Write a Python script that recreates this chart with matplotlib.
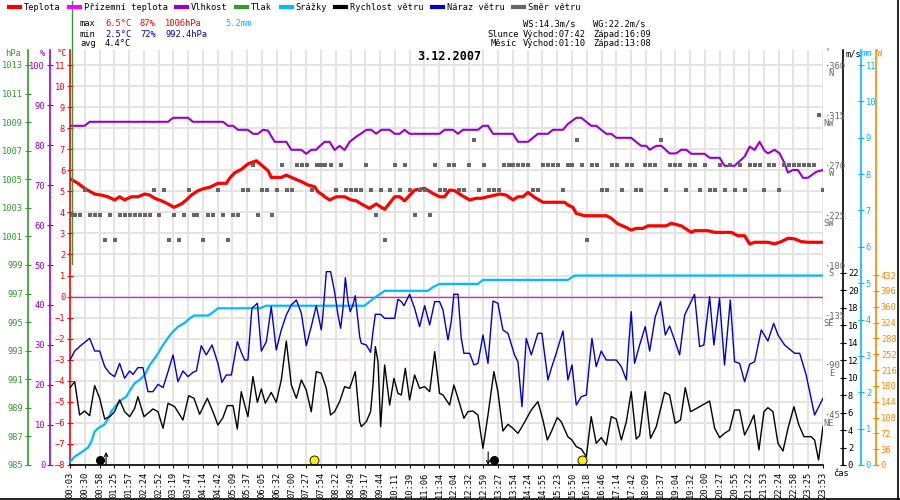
import numpy as np
import matplotlib
matplotlib.use('Agg')
import matplotlib.pyplot as plt
from matplotlib.lines import Line2D

plt.rcParams['font.family'] = ['DejaVu Sans Mono']
plt.rcParams['font.size'] = 6.3

# ---- data -------------------------------------------------------------
time_labels = ['00:03', '00:30', '00:58', '01:25', '01:57', '02:24', '02:52', '03:19', '03:47',
               '04:14', '04:42', '05:09', '05:37', '06:05', '06:32', '07:00', '07:27', '07:54',
               '08:22', '08:49', '09:17', '09:44', '10:11', '10:39', '11:06', '11:34', '12:04',
               '12:32', '12:59', '13:27', '13:54', '14:24', '14:55', '15:23', '15:50', '16:18',
               '16:46', '17:14', '17:42', '18:09', '18:37', '19:04', '19:32', '20:00', '20:27',
               '20:55', '21:22', '21:53', '22:24', '22:58', '23:25', '23:53']

# positions are in units of the (sample based) time axis: 0 = first label, 51 = last
temp_pos = [0.05, 0.54, 0.99, 1.67, 2.12, 2.57, 3.02, 3.36, 3.70, 4.15, 4.60, 5.06, 5.40, 5.73,
            6.19, 6.64, 7.04, 7.54, 7.88, 8.22, 8.67, 9.12, 9.46, 10.02, 10.59, 10.81, 11.15,
            11.60, 12.05, 12.62, 12.96, 13.41, 13.63, 14.31, 14.65, 14.99, 15.67, 16.12, 16.57,
            16.79, 17.13, 17.25, 17.58, 18.04, 18.60, 19.05, 19.39, 19.73, 20.29, 20.74, 21.31,
            21.99, 22.33, 22.66, 23.34, 24.02, 24.58, 25.03, 25.37, 25.71, 26.05, 26.50, 27.07,
            27.52, 27.86, 28.53, 29.10, 29.55, 30.00, 30.34, 30.68, 31.02, 31.47, 32.03, 32.60,
            33.50, 33.72, 34.06, 34.29, 34.85, 36.32, 36.66, 37.11, 37.56, 38.01, 38.35, 38.80,
            39.14, 40.38, 40.72, 41.40, 42.08, 42.30, 43.21, 43.66, 44.79, 45.24, 45.69, 46.03,
            46.37, 47.27, 47.72, 48.17, 48.63, 49.08, 49.53, 49.98, 51.0]
temp = [5.58, 5.38, 5.14, 4.87, 4.82, 4.74, 4.59, 4.74, 4.59, 4.74, 4.74, 4.87, 4.82, 4.67,
        4.55, 4.40, 4.24, 4.40, 4.59, 4.82, 5.03, 5.14, 5.19, 5.38, 5.38, 5.62, 5.88,
        6.04, 6.30, 6.45, 6.25, 5.98, 5.66, 5.66, 5.77, 5.66, 5.46, 5.30, 5.22,
        4.98, 4.82, 4.74, 4.59, 4.74, 4.74, 4.59, 4.55, 4.40, 4.19, 4.40, 4.14,
        4.74, 4.74, 4.55, 5.06, 5.14, 4.90, 4.74, 4.74, 5.06, 5.03, 4.82, 4.59,
        4.67, 4.67, 4.78, 4.87, 4.82, 4.59, 4.74, 4.74, 4.95, 4.71, 4.48, 4.48,
        4.48, 4.35, 4.24, 3.95, 3.84, 3.84, 3.72, 3.45, 3.32, 3.16, 3.24, 3.24,
        3.36, 3.36, 3.48, 3.36, 3.05, 3.13, 3.13, 3.05, 3.05, 2.89, 2.89, 2.50,
        2.58, 2.58, 2.50, 2.61, 2.77, 2.74, 2.61, 2.58, 2.58]

apparent_pos = [0, 51]
apparent_temp = [0.0, 0.0]

hum_pos = [0.05, 0.99, 1.33, 6.64, 6.98, 7.99, 8.33, 10.36, 10.70, 11.04, 11.38, 12.05, 12.39,
           12.73, 13.07, 13.41, 13.86, 14.65, 14.99, 15.67, 16.00, 16.34, 16.68, 16.79, 17.25,
           17.58, 17.92, 18.26, 18.60, 18.94, 19.39, 19.73, 20.07, 20.41, 20.74, 21.08, 21.65,
           21.99, 22.32, 22.66, 23.00, 25.03, 25.37, 25.94, 26.28, 26.61, 27.63, 27.97, 28.31,
           28.65, 30.00, 30.34, 31.02, 31.69, 32.37, 32.71, 33.39, 33.72, 34.29, 34.63, 35.30,
           35.64, 36.32, 36.66, 37.00, 38.01, 38.47, 38.69, 39.03, 39.26, 39.71, 40.05, 40.61,
           41.06, 41.40, 41.74, 42.08, 42.98, 43.32, 44.00, 44.33, 45.01, 45.69, 46.03, 46.37,
           46.70, 47.04, 47.27, 47.72, 48.06, 48.40, 48.62, 48.96, 49.30, 49.64, 49.98, 50.54,
           51.0]
humidity = [84.8, 84.8, 85.8, 85.8, 86.8, 86.8, 85.8, 85.8, 84.8, 84.8, 83.8, 83.8, 82.8,
            82.8, 83.8, 83.6, 80.8, 80.8, 78.8, 78.8, 77.8, 78.8, 78.8, 79.3, 80.8,
            80.8, 78.75, 79.8, 78.75, 80.8, 82.1, 82.9, 83.8, 83.8, 82.8, 83.8, 83.8,
            82.8, 82.8, 83.8, 82.8, 82.8, 83.8, 83.8, 82.8, 83.8, 83.8, 84.8, 84.8,
            82.8, 82.8, 80.8, 80.8, 82.8, 82.8, 83.8, 83.8, 85.25, 86.8, 86.8, 84.8,
            84.8, 82.8, 82.8, 81.8, 81.8, 80.4, 79.8, 79.8, 78.8, 79.8, 79.8, 77.9,
            77.9, 78.8, 78.8, 77.8, 77.8, 76.8, 76.8, 74.8, 74.8, 77.1, 79.6, 78.75,
            80.8, 78.6, 77.9, 78.8, 77.9, 75.4, 73.1, 73.75, 73.75, 71.8, 71.8, 73.3,
            73.75]

pressure_pos = [0.13, 0.13]
pressure = [1017.5, 999.1]

rain_pos = [0, 0.32, 0.77, 1.22, 1.44, 1.67, 1.90, 2.35, 2.57, 2.80, 3.14, 3.48, 3.81, 4.04,
            4.38, 4.72, 5.06, 5.40, 5.73, 5.96, 6.30, 6.64, 6.98, 7.31, 7.77, 8.10, 8.40, 9.35,
            9.68, 10.02, 12.84, 13.30, 19.95, 20.52, 21.31, 24.24, 24.58, 25.03, 27.63, 27.97,
            33.72, 34.18, 51.0]
rain = [0.09, 0.23, 0.35, 0.48, 0.64, 0.92, 1.01, 1.12, 1.27, 1.47, 1.65, 1.79, 1.88, 2.04,
        2.25, 2.34, 2.48, 2.75, 2.93, 3.07, 3.30, 3.50, 3.67, 3.80, 3.91, 4.03, 4.11, 4.11,
        4.20, 4.31, 4.31, 4.38, 4.38, 4.57, 4.79, 4.79, 4.89, 4.98, 4.98, 5.09,
        5.09, 5.21, 5.21]

speed_pos = [0, 0.32, 0.65, 0.99, 1.33, 1.67, 2.01, 2.35, 2.69, 3.02, 3.36, 3.70, 4.04, 4.38,
             4.60, 5.01, 5.62, 5.96, 6.30, 6.64, 7.09, 7.65, 8.04, 8.40, 8.78, 9.30, 9.68, 10.02,
             10.36, 10.65, 11.04, 11.33, 11.60, 11.83, 12.05, 12.39, 12.69, 12.96, 13.23, 13.63,
             13.97, 14.31, 14.65, 14.99, 15.33, 15.67, 16.00, 16.34, 16.68,
             17.02, 17.36, 17.65, 17.92, 18.26, 18.60, 18.94, 19.32, 19.62, 19.73,
             20.07, 20.36, 20.52, 20.68, 20.86, 21.04, 21.31, 21.65, 21.94, 22.21,
             22.44, 22.71, 23.00, 23.34, 23.68, 24.02, 24.36, 24.70, 25.03, 25.26,
             25.71, 26.00, 26.28, 26.68, 26.95, 27.29, 27.63, 27.97, 28.31, 28.71,
             28.98, 29.32, 29.66, 30.00, 30.34, 30.68, 31.24, 31.69, 32.03, 32.33,
             32.60, 33.00, 33.27,
             33.72, 34.00, 34.29, 34.63, 34.97, 35.30, 35.64, 35.98, 36.32, 36.66,
             37.00, 37.34, 37.68, 38.01, 38.35, 38.58, 38.96, 39.32, 39.71, 40.27,
             40.61, 40.99, 41.35, 41.67, 42.03, 42.64, 43.32, 43.66, 44.00, 44.33,
             44.67, 45.01, 45.35, 45.69, 46.03, 46.32, 46.66, 47.00, 47.27, 47.61,
             47.95, 48.29, 48.63, 49.03, 49.35, 49.71, 50.20, 50.43, 50.70, 51.0]
speed = [8.85, 9.53, 5.72, 6.18, 5.64, 9.08, 7.63, 5.26, 5.53, 6.10, 7.44, 6.10, 5.53, 6.48,
         7.82, 5.53, 6.41, 6.10, 4.20, 7.06, 6.67, 5.15, 7.93, 7.63, 5.80, 7.63, 6.10, 4.58,
         5.42, 6.79, 6.79, 4.12, 8.39, 6.86, 5.53, 10.11, 7.17, 8.70, 7.06, 8.31,
         7.17, 9.73, 14.19, 9.15, 7.63, 9.73, 8.58, 6.10, 10.68,
         10.49, 8.77, 5.72, 6.10, 7.25, 8.96, 8.77, 10.68, 4.96, 4.39,
         4.96, 6.10, 9.15, 13.54, 11.82, 4.39, 11.44, 6.86, 9.92, 8.20,
         8.01, 11.06, 7.44, 10.30, 8.77, 8.96, 8.39, 12.97, 8.20, 8.01,
         6.86, 9.15, 7.63, 5.34, 6.10, 6.18, 5.72, 1.91, 5.72, 10.68,
         8.39, 3.89, 4.65, 4.20, 3.62, 4.58, 6.29, 7.25, 5.15, 2.86,
         3.81, 5.42, 4.96,
         3.24, 2.86, 2.10, 1.83, 0.95, 5.53, 2.48, 3.13, 2.29, 5.53,
         5.26, 2.86, 4.96, 8.39, 2.97, 3.36, 8.39, 3.05, 4.39, 8.31,
         8.01, 4.77, 5.15, 8.85, 6.10, 6.67, 7.32, 4.20, 3.13, 3.62,
         4.00, 6.29, 6.29, 3.43, 4.58, 5.72, 1.72, 6.10, 6.56, 6.10,
         2.48, 1.60, 4.20, 6.67, 4.65, 3.24, 3.24, 2.86, 0.57, 4.39]

gust_pos = [0, 0.32, 0.77, 1.33, 1.67, 2.01, 2.35, 2.69, 3.02, 3.36, 3.70, 4.04, 4.27, 4.60,
            4.94, 5.28, 5.62, 5.96, 6.30, 6.64, 6.98, 7.31, 7.65, 7.99, 8.33, 8.56, 8.89, 9.23,
            9.62, 10.02, 10.29, 10.59, 10.93, 11.33, 11.60, 11.83, 12.05, 12.32, 12.69, 12.96,
            13.30, 13.63, 13.97, 14.31, 14.65, 14.99, 15.33, 15.67, 16.00, 16.34, 16.68, 17.02,
            17.13, 17.36, 17.65, 17.92, 18.15, 18.33, 18.49, 18.65, 18.83, 18.98,
            19.16, 19.32, 19.46, 19.62, 19.73, 20.07, 20.36, 20.52, 20.68, 21.04,
            21.31, 21.99, 22.21, 22.44, 22.62, 23.00, 23.34, 23.68, 24.02, 24.36,
            24.70, 25.03, 25.26, 25.60, 25.82, 26.00, 26.28, 26.50, 26.68, 27.07,
            27.36, 27.63, 27.97, 28.31, 28.65, 28.98, 29.32, 29.66, 30.11, 30.34,
            30.61, 30.90, 31.24, 31.69, 31.96, 32.37, 32.60, 32.93, 33.39,
            33.72, 34.00, 34.29, 34.63, 34.97, 35.19, 35.35, 35.64, 35.98, 36.32,
            37.00, 37.34, 37.68, 37.84, 38.01, 38.24, 38.58, 38.96, 39.26, 39.64,
            40.00, 40.32, 40.61, 40.95, 41.29, 41.63, 42.30, 42.64, 42.93, 43.32,
            43.61, 43.99, 44.33, 44.72, 45.01, 45.35, 45.69, 46.03, 46.37, 46.82,
            47.27, 47.66, 47.95, 48.40, 49.08, 49.42, 49.86, 50.43, 50.77, 51.0]
gust = [12.01, 13.04, 13.73, 14.49, 13.04, 13.04, 11.25, 10.49, 10.11, 11.63, 9.92, 10.76, 10.37, 11.14,
        11.14, 8.39, 8.39, 9.23, 8.85, 10.68, 12.59, 9.53, 10.76, 10.11, 10.60, 10.76, 13.65, 12.59,
        13.73, 11.63, 9.46, 10.30, 10.30, 14.11, 12.89, 12.01, 12.01, 17.93, 18.50, 13.04,
        14.11, 18.12, 13.16, 15.45, 17.16, 18.31, 18.88, 17.35, 13.65, 15.83, 18.23, 15.45,
        17.16, 22.12, 22.12, 19.83, 17.16, 15.64, 17.93, 21.43, 18.69, 17.54,
        18.31, 19.37, 17.16, 14.68, 13.92, 13.73, 12.89, 15.26, 17.24, 17.24,
        16.78, 16.78, 18.96, 18.69, 18.23, 19.53, 17.93, 15.83, 18.23, 16.02,
        18.69, 18.69, 17.73, 14.30, 16.40, 19.53, 19.53, 14.49, 12.78, 12.78,
        11.44, 11.63, 14.87, 11.63, 18.76, 18.50, 15.45, 15.07, 12.59, 11.82,
        6.67, 14.49, 12.59, 15.07, 15.07, 9.73, 11.06, 12.78, 15.33,
        9.73, 11.44, 6.86, 7.82, 8.01, 11.82, 14.49, 11.25, 13.04, 12.01,
        12.01, 11.25, 9.73, 13.73, 17.54, 11.63, 13.73, 15.83, 13.04, 16.97,
        18.69, 14.87, 15.90, 14.30, 12.59, 17.16, 19.53, 13.54, 13.73, 19.26,
        13.73, 19.07, 11.44, 18.88, 11.82, 11.63, 9.53, 11.52, 11.82, 15.45,
        14.19, 16.21, 14.87, 13.73, 12.78, 12.78, 10.30, 5.72, 6.86, 7.63]

# wind direction samples, grouped by the reported direction (degrees)
dir_groups = {
    202.5: [2.35, 3.03, 6.68, 7.36, 9.01, 10.70, 21.31, 35.02],
    225.0: [0.05, 0.32, 0.66, 1.33, 1.67, 2.01, 2.69, 3.37, 3.70, 4.04, 4.38, 4.72, 5.06, 5.40,
            6.01, 7.02, 7.70, 8.38, 8.60, 9.35, 9.69, 10.36, 11.04, 11.38, 12.73, 13.68, 20.70,
            23.35, 24.36],
    247.5: [1.00, 5.69, 6.37, 8.04, 10.02, 11.72, 12.06, 13.02, 13.34, 14.02, 14.70, 15.04,
            16.39, 18.00, 18.67, 19.01, 19.35, 19.69, 20.37, 21.04, 21.65, 22.33, 23.01, 23.68,
            24.02, 25.04, 25.38, 26.33, 26.66, 27.68, 28.36, 28.70, 29.04, 31.36, 31.70, 33.39,
            36.03, 36.37, 37.39, 38.35, 38.69, 40.35, 41.70, 42.65, 43.32, 43.66, 44.34, 45.02,
            45.70, 46.98, 48.00, 51.00],
    270.0: [12.39, 14.36, 15.37, 15.71, 16.05, 16.73, 17.02, 17.29, 17.66, 18.33, 20.03, 22.01,
            22.69, 24.70, 25.65, 25.99, 27.00, 28.02, 29.37, 29.71, 30.00, 30.34, 30.68, 31.02,
            32.04, 32.37, 32.71, 33.05, 33.73, 34.00, 34.68, 35.35, 35.69, 36.71, 37.05, 37.72,
            38.06, 38.96, 39.30, 39.64, 40.66, 41.00, 41.33, 42.01, 42.35, 42.99, 44.00, 44.68,
            45.36, 46.03, 46.37, 46.71, 47.32, 47.66, 48.34, 48.68, 49.01, 49.35, 49.69, 50.03,
            50.37],
    292.5: [27.34, 34.34, 40.01],
    315.0: [50.71],
}
dir_pos = [p for d in dir_groups for p in dir_groups[d]]
dir_deg = [d for d in dir_groups for p in dir_groups[d]]

dir_ticks = [45, 90, 135, 180, 225, 270, 315, 360]
dir_names = ['NE', 'E', 'SE', 'S', 'SW', 'W', 'NW', 'N']

events = [('01:10', 'moonrise'), ('07:42', 'sunrise'), ('13:08', 'moonset'), ('16:09', 'sunset')]

# ---- helpers ------------------------------------------------------------
W, H = 900, 500
EXT = 415 / 400  # plot area reaches 15 px above the top tick


def tmin(s):
    h, m = s.split(':')
    return int(h) * 60 + int(m)


def fx(px):
    return px / W


def fy(py):
    return 1 - py / H


tick_pos = np.arange(len(time_labels))
tick_min = [tmin(t) for t in time_labels]

fig = plt.figure(figsize=(9, 5), dpi=100)
ax = fig.add_axes([fx(70), 35 / H, 753 / W, 415 / H])
ax.set_xlim(0, 51)
ax.set_ylim(-8, -8 + 19 * EXT)
ax.set_xticks(tick_pos)
ax.set_xticklabels(time_labels, rotation=90)
ax.set_yticks(range(-8, 12))
ax.grid(True, color='#e8e3e3', lw=1.4)
ax.set_axisbelow(True)
for s in ['top', 'right']:
    ax.spines[s].set_visible(False)
ax.spines['left'].set_color('red')
ax.spines['left'].set_linewidth(1.2)
ax.spines['bottom'].set_linewidth(1.2)
ax.tick_params(axis='x', length=2, pad=3, labelsize=6.3)
ax.tick_params(axis='y', colors='red', direction='inout', length=5, pad=1, labelsize=6.3)


def twin(side, out_px, color, lo, top, ticks):
    a = ax.twinx()
    for s in a.spines.values():
        s.set_visible(False)
    sp = a.spines[side]
    sp.set_visible(True)
    sp.set_color(color)
    sp.set_linewidth(1.2)
    sp.set_position(('outward', out_px * 0.72))
    if side == 'left':
        a.yaxis.tick_left()
    else:
        a.yaxis.tick_right()
    a.set_ylim(lo, top)
    a.set_yticks(ticks)
    a.tick_params(axis='y', colors=color, direction='inout', length=5, pad=1, labelsize=6.3)
    return a


green = '#339933'
purple = '#9900cc'
cyan = '#00bbff'
orange = '#ff8800'
gray = '#666666'

ax_rh = twin('left', 20, purple, 0, 100 * EXT, range(0, 101, 10))
ax_p = twin('left', 42, green, 985, 985 + 28 * EXT, range(985, 1014, 2))
ax_mm = twin('right', 38, cyan, 0, 11 * EXT, range(0, 12))
ax_w = twin('right', 53, orange, 0, 432 * 400 / 190 * EXT, range(0, 433, 36))
ax_ws = twin('right', 20, 'black', 0, 22 * 400 / 192.3 * EXT, range(0, 23, 2))

ax_dir = ax.twinx()
for s in ax_dir.spines.values():
    s.set_visible(False)
ax_dir.set_ylim(0, 360 * EXT)
ax_dir.set_yticks(dir_ticks)
ax_dir.set_yticklabels(['\u00b7' + str(v) for v in dir_ticks])
ax_dir.tick_params(axis='y', length=0, pad=1.2, colors=gray, labelsize=6.3)
for v, name in zip(dir_ticks, dir_names):
    ax_dir.annotate(name, xy=(1, v), xycoords=('axes fraction', 'data'), xytext=(8, -3),
                    textcoords='offset points', ha='right', va='top', color=gray, fontsize=6.3)

# ---- series -------------------------------------------------------------
ax_mm.plot(rain_pos, rain, color=cyan, lw=1.6)
ax_ws.plot(gust_pos, gust, color='#0000cc', lw=1.0)
ax_ws.plot(speed_pos, speed, color='black', lw=1.0)
ax.plot(apparent_pos, apparent_temp, color='#ff00ff', lw=0.9)
ax.plot(temp_pos, temp, color='red', lw=2.3)
ax_rh.plot(hum_pos, humidity, color=purple, lw=1.5)
ax_p.plot(pressure_pos, pressure, color=green, lw=1.0, clip_on=False)
ax_dir.plot(dir_pos, dir_deg, 's', color=gray, ms=3, mew=0)

# sun / moon marks at the time axis
for t, kind in events:
    p = np.interp(tmin(t), tick_min, tick_pos)
    if kind.startswith('sun'):
        ax.plot(p, -7.75, 'o', ms=6.5, mfc='#ffee00', mec='black', mew=0.6, clip_on=False)
    else:
        up = kind == 'moonrise'
        ax.plot(p - 0.4 if up else p + 0.4, -7.75, 'o', ms=5.5, color='black', clip_on=False)
        a, b = (-8, -7.38) if up else (-7.38, -8)
        ax.annotate('', xy=(p, b), xytext=(p, a),
                    arrowprops=dict(arrowstyle='->', color='black', lw=0.8,
                                    shrinkA=0, shrinkB=0, mutation_scale=6))

# ---- texts ---------------------------------------------------------------
handles = [Line2D([], [], color=c, lw=3) for c in
           ['red', '#ff00ff', purple, green, cyan, 'black', '#0000cc', gray]]
labels = ['Teplota', 'P\u0159\u00edzemn\u00ed teplota', 'Vlhkost', 'Tlak', 'Sr\u00e1\u017eky',
          'Rychlost v\u011btru', 'N\u00e1raz v\u011btru', 'Sm\u011br v\u011btru']
fig.legend(handles, labels, loc='upper left', bbox_to_anchor=(fx(9), fy(3)), ncol=8,
           frameon=False, handlelength=1.3, handletextpad=0.4, columnspacing=1.0,
           borderpad=0, borderaxespad=0, fontsize=6.2)

fig.text(fx(449), fy(57), '3.12.2007', ha='center', va='center', fontsize=8.5,
         fontweight='bold')


def put(x, y, s, color='black', **kw):
    fig.text(fx(x), fy(y), s, color=color, va='center', ha='left', **kw)


put(80, 24, 'max')
put(105, 24, '6.5\u00b0C', 'red')
put(140, 24, '87%', 'red')
put(165, 24, '1006hPa', 'red')
put(225, 24, '5.2mm', cyan)
put(80, 34, 'min')
put(105, 34, '2.5\u00b0C', '#0000cc')
put(140, 34, '72%', '#0000cc')
put(165, 34, '992.4hPa', '#0000cc')
put(80, 44, 'avg')
put(105, 44, '4.4\u00b0C')

put(523, 24, 'WS:14.3m/s')
put(593, 24, 'WG:22.2m/s')
put(487, 34, 'Slunce')
put(523, 34, 'V\u00fdchod:07:42')
put(593, 34, 'Z\u00e1pad:16:09')
put(491, 44, 'M\u011bs\u00edc')
put(523, 44, 'V\u00fdchod:01:10')
put(593, 44, 'Z\u00e1pad:13:08')

put(5, 54, 'hPa', green)
put(40, 54, '%', purple)
put(57, 54, '\u00b0C', 'red')
put(826, 52, '\u00b0', gray, fontsize=5)
put(845, 54, 'm/s')
put(862, 54, 'mm', cyan)
put(877, 54, 'W', orange)
put(833, 474, '\u010das')

fig.add_artist(Line2D([fx(898), fx(898)], [0, 1], color='black', lw=1.2))
fig.add_artist(Line2D([0, 1], [fy(499), fy(499)], color='black', lw=1.2))

fig.savefig('out.png', dpi=100)
